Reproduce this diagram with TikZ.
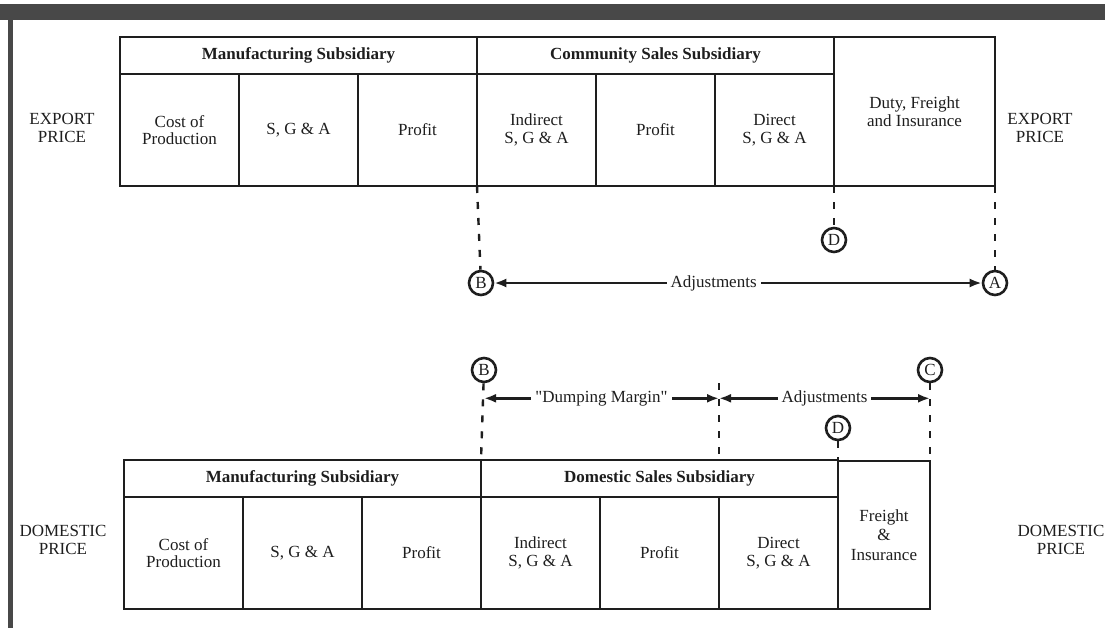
\documentclass[tikz,border=0pt]{standalone}
\usepackage{fontspec}
\setmainfont{Liberation Serif}[Ligatures=TeXOff]
\usetikzlibrary{positioning,arrows.meta}
\definecolor{colorink}  {RGB}{30,30,30}
\definecolor{colorframe}{RGB}{72,72,72}

\begin{document}
\begin{tikzpicture}[
    x=1pt, y=-1pt,
    font={\fontsize{17}{17.5}\selectfont},
    cell/.style={draw=colorink,text=colorink,line width=2.2pt,outer sep=0pt,inner sep=0pt,align=center,minimum width=119pt,minimum height=112pt},
    header/.style={cell,font={\fontsize{17}{17.5}\selectfont\bfseries},minimum height=37pt,minimum width=357pt},
    price/.style={align=center,text=colorink},
    letter/.style={circle,draw=colorink,text=colorink,line width=2.6pt,minimum size=24pt,inner sep=0pt,font={\fontsize{17}{17}\selectfont}},
    guide/.style={draw=colorink,line width=2.4pt,dash pattern=on 7pt off 9pt},
    span/.style={{Latex[length=12pt,width=9pt]}-{Latex[length=12pt,width=9pt]},line width=2.4pt,draw=colorink},
]
    \useasboundingbox (0,0) rectangle (1105,632);

    % Frame of the scan
    \fill[colorframe] (0,4) rectangle (1105,20);
    \draw[colorframe,line width=5pt] (10,12) -- (10,628);

    % Export price build-up
    \node[cell,anchor=north west] (cost) at (120,74) {Cost of\\Production};
    \node[cell,right=0pt of cost]     (sga)      {S, G \& A};
    \node[cell,right=0pt of sga]      (profit)   {Profit};
    \node[cell,right=0pt of profit]   (indirect) {Indirect\\S, G \& A};
    \node[cell,right=0pt of indirect] (csprofit) {Profit};
    \node[cell,right=0pt of csprofit] (direct)   {Direct\\S, G \& A};
    \node[cell,anchor=south west,minimum width=161pt,minimum height=149pt] (duty) at (direct.south east) {Duty, Freight\\and Insurance};
    \node[header,anchor=south west] (manuf)     at (cost.north west)     {Manufacturing Subsidiary};
    \node[header,anchor=south west] (community) at (indirect.north west) {Community Sales Subsidiary};

    \node[price] (exportL) at (62,128)   {EXPORT\\PRICE};
    \node[price] (exportR) at (1040,128) {EXPORT\\PRICE};

    % Export adjustments
    \node[letter] (topB) at (481,283) {B};
    \node[letter] (topD) at (834,240) {D};
    \node[letter] (topA) at (995,283) {A};
    \draw[guide] (indirect.south west) -- (topB);
    \draw[guide] (direct.south east) -- (topD);
    \draw[guide] (duty.south east) -- (topA);
    \draw[span] (topB) -- (topA) node[pos=0.45,fill=white,inner sep=4pt,text=colorink] {Adjustments};

    % Domestic price build-up
    \node[cell,anchor=north west] (dcost) at (124,497) {Cost of\\Production};
    \node[cell,right=0pt of dcost]     (dsga)      {S, G \& A};
    \node[cell,right=0pt of dsga]      (dprofit)   {Profit};
    \node[cell,right=0pt of dprofit]   (dindirect) {Indirect\\S, G \& A};
    \node[cell,right=0pt of dindirect] (dsprofit)  {Profit};
    \node[cell,right=0pt of dsprofit]  (ddirect)   {Direct\\S, G \& A};
    \node[cell,anchor=south west,minimum width=92pt,minimum height=148pt,font={\fontsize{17}{19.5}\selectfont}] (freight) at (ddirect.south east) {Freight\\\&\\Insurance};
    \node[header,anchor=south west] (dmanuf) at (dcost.north west)     {Manufacturing Subsidiary};
    \node[header,anchor=south west] (dsales) at (dindirect.north west) {Domestic Sales Subsidiary};

    \node[price] (domesticL) at (63,540)   {DOMESTIC\\PRICE};
    \node[price] (domesticR) at (1061,540) {DOMESTIC\\PRICE};

    % Dumping margin and domestic adjustments
    \node[letter] (botB) at (484,370) {B};
    \node[letter] (botC) at (930,370) {C};
    \node[letter] (botD) at (838,428) {D};
    \coordinate (midtop) at (dsprofit.east |- botB.south);
    \coordinate (midlow) at (dsprofit.east |- dsales.north);
    \coordinate (dumpL) at ([yshift=-15pt]botB.south);
    \coordinate (mid)   at (midtop |- dumpL);
    \coordinate (adjR)  at (botC |- dumpL);
    \draw[guide] (botB) -- (dsales.north west);
    \draw[guide] (midtop) -- (midlow);
    \draw[guide] (botC) -- (freight.north east);
    \draw[guide] (botD) -- (dsales.north east);
    \draw[span] (dumpL) -- (mid) node[midway,fill=white,inner sep=4pt,text=colorink] {"Dumping Margin"};
    \draw[span] (mid) -- (adjR) node[midway,fill=white,inner sep=4pt,text=colorink] {Adjustments};

\end{tikzpicture}
\end{document}
